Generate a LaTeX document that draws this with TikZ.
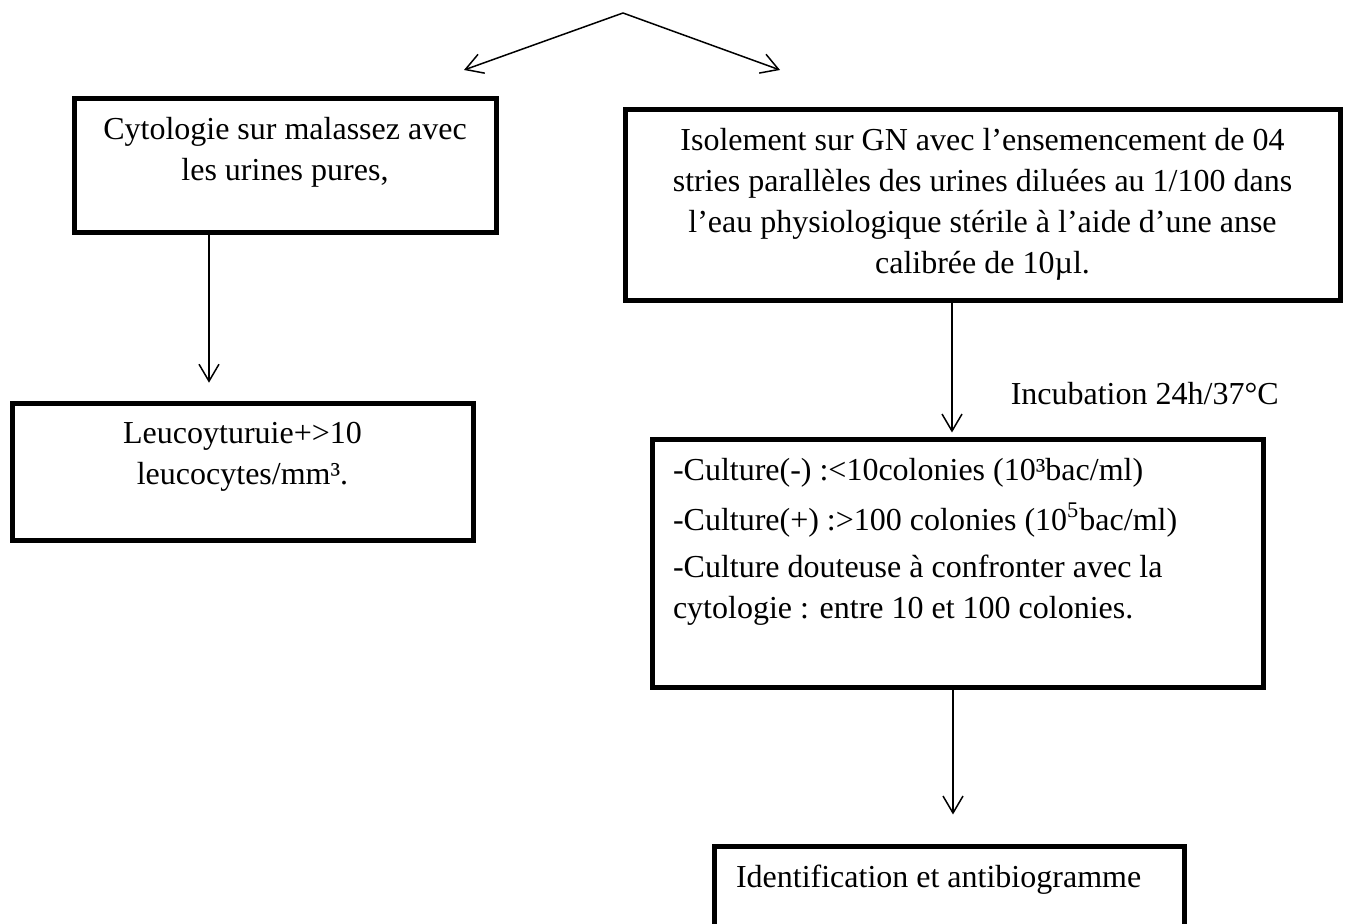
\documentclass[tikz,border=0pt]{standalone}
\usepackage{fontspec}
\setmainfont{Liberation Serif}
\usetikzlibrary{arrows.meta, calc}
\newcommand{\boxtext}[3]{\parbox[c][#1][t]{#2}{\vspace*{9pt}#3}}

\begin{document}
\begin{tikzpicture}[x=0.5pt, y=-0.5pt,
    box/.style={draw, line width=2.5pt, inner sep=0pt,
                font=\fontsize{16}{20.5}\selectfont},
    arr/.style={-{Straight Barb[length=8.5pt, width=10pt]}, line width=0.75pt},
    lbl/.style={font=\fontsize{16}{20.5}\selectfont, inner sep=0pt}
  ]
    \path[use as bounding box, clip] (0,0) rectangle (1345,924);
    % split at the top
    \coordinate (split) at (623,13);
    \coordinate (toleft) at (464,70);
    \coordinate (toright) at (780,70);
    \draw[arr] (split) -- (toleft);
    \draw[arr] (split) -- (toright);
    % left branch
    \node[box] (cyto) at (285,166)
      {\boxtext{67pt}{211pt}{\centering Cytologie sur malassez avec\\
       les urines pures,}};
    \node[box] (leuco) at (242.5,472.5)
      {\boxtext{68.5pt}{230.5pt}{\centering Leucoyturuie+>10\\
       leucocytes/mm³.}};
    \draw[arr, shorten >=9.4pt] ($(cyto.south)+(-76,0)$)
      -- ($(leuco.north)+(-33.5,0)$);
    % right branch
    \node[box] (isol) at (982.5,205.5)
      {\boxtext{95.5pt}{357.5pt}{\centering
       Isolement sur GN avec l’ensemencement de 04\\
       stries parallèles des urines diluées au 1/100 dans\\
       l’eau physiologique stérile à l’aide d’une anse\\
       calibrée de 10µl.}};
    \node[box] (cult) at (957.5,564)
      {\boxtext{124pt}{305.5pt}{\raggedright\leftskip=10.5pt
       -Culture(-) :<10colonies (10³bac/ml)\\[4.5pt]
       -Culture(+) :>100 colonies (10\textsuperscript{5}bac/ml)\\[3pt]
       -Culture douteuse à confronter avec la\\
       cytologie : entre 10 et 100 colonies.}};
    \node[box] (ident) at (949,914)
      {\boxtext{67pt}{235pt}{\raggedright\leftskip=11pt
       Identification et antibiogramme}};
    \draw[arr, shorten >=2.5pt] ($(isol.south)+(-30.5,0)$)
      -- ($(cult.north)+(-5.5,0)$)
      node[lbl, pos=0.67, anchor=west, xshift=29pt] (incub)
      {Incubation 24h/37°C};
    \draw[arr, shorten >=15pt] ($(cult.south)+(-4.5,0)$)
      -- ($(ident.north)+(4,0)$);
\end{tikzpicture}
\end{document}
